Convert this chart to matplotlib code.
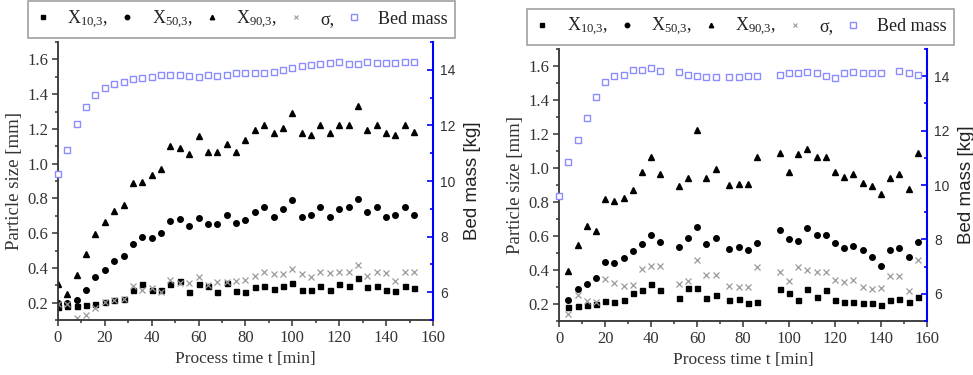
import numpy as np
import matplotlib
matplotlib.use('Agg')
import matplotlib.pyplot as plt
from matplotlib.ticker import MultipleLocator

plt.rcParams['font.family'] = ['Liberation Serif', 'DejaVu Serif']
plt.rcParams['mathtext.default'] = 'regular'

# ---- left run: sampled every 4 min
t_a = [0, 4, 8, 12, 16, 20, 24, 28, 32, 36, 40, 44, 48, 52, 56, 60, 64, 68, 72, 76,
       80, 84, 88, 92, 96, 100, 104, 108, 112, 116, 120, 124, 128, 132, 136, 140, 144, 148, 152]
x10_a = [0.175, 0.178, 0.178, 0.186, 0.194, 0.204, 0.215, 0.223, 0.274, 0.31, 0.274, 0.274, 0.306,
         0.326, 0.26, 0.308, 0.297, 0.26, 0.312, 0.268, 0.264, 0.288, 0.294, 0.277, 0.294, 0.314,
         0.275, 0.275, 0.294, 0.275, 0.308, 0.294, 0.343, 0.289, 0.294, 0.275, 0.269, 0.294, 0.285]
x50_a = [0.2, 0.2, 0.215, 0.272, 0.347, 0.388, 0.44, 0.471, 0.539, 0.578, 0.572, 0.603, 0.669,
         0.682, 0.641, 0.686, 0.655, 0.651, 0.703, 0.66, 0.674, 0.72, 0.751, 0.693, 0.741, 0.79,
         0.693, 0.703, 0.751, 0.693, 0.741, 0.751, 0.795, 0.72, 0.751, 0.693, 0.703, 0.751, 0.705]
x90_a = [0.31, 0.252, 0.359, 0.479, 0.597, 0.667, 0.73, 0.761, 0.891, 0.897, 0.932, 0.968, 1.099,
         1.092, 1.053, 1.161, 1.07, 1.07, 1.112, 1.07, 1.135, 1.192, 1.222, 1.174, 1.203, 1.293,
         1.176, 1.163, 1.222, 1.174, 1.222, 1.222, 1.335, 1.193, 1.222, 1.174, 1.163, 1.222, 1.18]
sig_a = [0.19, 0.19, 0.113, 0.126, 0.171, 0.204, 0.215, 0.22, 0.293, 0.274, 0.283, 0.264, 0.33,
         0.312, 0.312, 0.349, 0.303, 0.32, 0.32, 0.327, 0.331, 0.356, 0.379, 0.366, 0.366, 0.395,
         0.366, 0.346, 0.379, 0.37, 0.379, 0.379, 0.418, 0.356, 0.379, 0.37, 0.327, 0.379, 0.379]
mass_a = [10.27, 11.13, 12.06, 12.67, 13.1, 13.36, 13.5, 13.58, 13.66, 13.72, 13.76, 13.8, 13.82,
          13.82, 13.77, 13.76, 13.8, 13.77, 13.82, 13.88, 13.88, 13.88, 13.9, 13.91, 13.99, 14.06,
          14.14, 14.18, 14.22, 14.25, 14.27, 14.22, 14.21, 14.27, 14.25, 14.26, 14.26, 14.28, 14.28]

# ---- right run: some samples missing
t_b = [4, 8, 12, 16, 20, 24, 28, 32, 36, 40, 44, 52, 56, 60, 64, 68, 74, 78, 82, 86,
       96, 100, 104, 108, 112, 116, 120, 124, 128, 132, 136, 140, 144, 148, 152, 156]
x10_b = [0.182, 0.19, 0.192, 0.198, 0.216, 0.212, 0.222, 0.267, 0.283, 0.316, 0.281, 0.238, 0.293,
         0.293, 0.236, 0.253, 0.226, 0.228, 0.208, 0.21, 0.288, 0.262, 0.223, 0.288, 0.239, 0.282,
         0.223, 0.21, 0.21, 0.206, 0.204, 0.194, 0.223, 0.227, 0.21, 0.243]
x50_b = [0.224, 0.289, 0.32, 0.352, 0.445, 0.443, 0.472, 0.514, 0.553, 0.603, 0.563, 0.534, 0.587,
         0.652, 0.553, 0.589, 0.522, 0.537, 0.518, 0.561, 0.634, 0.581, 0.569, 0.649, 0.604, 0.604,
         0.559, 0.532, 0.54, 0.516, 0.477, 0.425, 0.518, 0.53, 0.477, 0.565]
x90_b = [0.392, 0.545, 0.656, 0.632, 0.818, 0.806, 0.824, 0.869, 0.977, 1.066, 0.963, 0.897, 0.939,
         1.223, 0.939, 0.992, 0.898, 0.903, 0.903, 1.062, 1.088, 0.975, 1.082, 1.113, 1.062, 1.064,
         0.977, 0.949, 0.963, 0.912, 0.892, 0.845, 0.941, 0.965, 0.876, 1.088]
sig_b = [0.139, 0.251, 0.22, 0.214, 0.35, 0.322, 0.305, 0.311, 0.405, 0.421, 0.421, 0.32, 0.336,
         0.461, 0.37, 0.372, 0.307, 0.302, 0.302, 0.419, 0.389, 0.337, 0.419, 0.399, 0.386, 0.386,
         0.341, 0.327, 0.341, 0.298, 0.286, 0.294, 0.362, 0.362, 0.274, 0.46]
tm_b = [0, 4, 8, 12, 16, 20, 24, 28, 32, 36, 40, 44, 52, 56, 60, 64, 68, 74, 78, 82, 86,
        96, 100, 104, 108, 112, 116, 120, 124, 128, 132, 136, 140, 148, 152, 156]
mass_b = [9.58, 10.85, 11.65, 12.48, 13.23, 13.77, 14.0, 14.06, 14.23, 14.23, 14.32, 14.19, 14.14,
          14.05, 14.0, 13.96, 13.96, 13.96, 13.98, 13.99, 14.0, 14.05, 14.11, 14.1, 14.15, 14.12,
          14.0, 13.95, 14.1, 14.15, 14.11, 14.1, 14.1, 14.19, 14.1, 14.05]

labels = ['X$_{10{,}3}$,', 'X$_{50{,}3}$,', 'X$_{90{,}3}$,', 'σ,', 'Bed mass']
BLUE = '#0000ff'
MASS_C = '#8c8cff'

fig = plt.figure(figsize=(9.73, 3.75), dpi=100)


def panel(rect, t, x10, x50, x90, sig, tm, mass, leg_box):
    ax = fig.add_axes(rect)
    ax.plot(t, x10, 's', color='black', ms=3.6, ls='none')
    ax.plot(t, x50, 'o', color='black', ms=4.0, ls='none')
    ax.plot(t, x90, '^', color='black', ms=4.0, ls='none')
    ax.plot(t, sig, 'x', color='#9a9a9a', ms=4.5, mew=0.9, ls='none')
    ax.set_xlim(0, 160)
    ax.set_ylim(0.1, 1.7)
    ax.xaxis.set_major_locator(MultipleLocator(20))
    ax.xaxis.set_minor_locator(MultipleLocator(10))
    ax.yaxis.set_major_locator(MultipleLocator(0.2))
    ax.yaxis.set_minor_locator(MultipleLocator(0.1))
    ax.yaxis.set_major_formatter(matplotlib.ticker.FormatStrFormatter('%.1f'))
    ax.spines['top'].set_visible(False)
    ax.spines['right'].set_visible(False)
    for s in ('left', 'bottom'):
        ax.spines[s].set_color('#333333')
        ax.spines[s].set_linewidth(1.3)
    ax.tick_params(which='both', direction='out', color='#333333', width=1.1, labelsize=12,
                   labelcolor='#333333', pad=2.5)
    ax.tick_params(which='major', length=4.5)
    ax.tick_params(which='minor', length=2.5)
    ax.set_xlabel('Process time t [min]', fontsize=12.5, color='#333333', labelpad=4)
    ax.set_ylabel('Particle size [mm]', fontsize=13.5, color='#333333', labelpad=3)

    ax2 = ax.twinx()
    ax2.plot(tm, mass, 's', mfc='white', mec=MASS_C, mew=1.0, ms=4.5, ls='none', clip_on=False)
    ax2.set_ylim(5, 15)
    ax2.yaxis.set_major_locator(MultipleLocator(2))
    ax2.yaxis.set_minor_locator(MultipleLocator(1))
    for s in ('top', 'left', 'bottom'):
        ax2.spines[s].set_visible(False)
    ax2.spines['right'].set_color(BLUE)
    ax2.spines['right'].set_linewidth(1.5)
    ax2.tick_params(which='both', direction='in', color=BLUE, width=1.2, labelsize=10,
                    labelcolor='#333333', labelfontfamily='Liberation Sans', pad=5)
    ax2.tick_params(which='major', length=4.5)
    ax2.tick_params(which='minor', length=2.5)
    ax2.set_ylabel('Bed mass [kg]', fontsize=13.5, family='Liberation Sans', color='#222222',
                   labelpad=6)

    handles = [
        plt.Line2D([], [], marker='s', color='black', ms=3.0, ls='none'),
        plt.Line2D([], [], marker='o', color='black', ms=3.2, ls='none'),
        plt.Line2D([], [], marker='^', color='black', ms=3.2, ls='none'),
        plt.Line2D([], [], marker='x', color='#9a9a9a', ms=3.5, mew=0.8, ls='none'),
        plt.Line2D([], [], marker='s', mfc='white', mec=MASS_C, mew=1.0, ms=4.0, ls='none'),
    ]
    leg = fig.legend(handles, labels, loc='center', bbox_to_anchor=leg_box, ncol=5,
                     fontsize=13, frameon=True, fancybox=False, handlelength=0.9,
                     handletextpad=0.9, columnspacing=0.6, borderpad=0.4)
    leg.get_frame().set_edgecolor('#888888')
    leg.get_frame().set_linewidth(1.2)
    for txt in leg.get_texts():
        txt.set_color('#222222')
    return ax, ax2


panel([0.0596, 0.1467, 0.3854, 0.741], t_a, x10_a, x50_a, x90_a, sig_a, t_a, mass_a,
      (0.248, 0.948))
panel([0.5748, 0.144, 0.3779, 0.7253], t_b, x10_b, x50_b, x90_b, sig_b, tm_b, mass_b,
      (0.761, 0.928))

fig.savefig('out.png', dpi=100)
